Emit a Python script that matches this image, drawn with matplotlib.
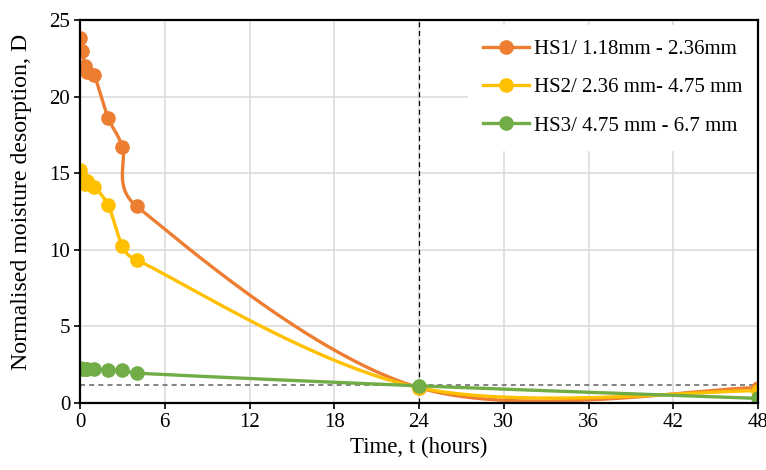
import numpy as np
import matplotlib
matplotlib.use("Agg")
import matplotlib.pyplot as plt

plt.rcParams["font.family"] = ["Liberation Serif", "DejaVu Serif"]

# sampling times (hours) and normalised moisture desorption D
hours = [0, 0.17, 0.33, 0.5, 1, 2, 3, 4, 24, 48]
hs1 = [23.8, 23.0, 22.0, 21.6, 21.4, 18.6, 16.7, 12.85, 1.0, 1.0]
hs2 = [15.2, 14.7, 14.3, 14.5, 14.1, 12.9, 10.25, 9.35, 1.0, 0.8]
hs3 = [2.3, 2.25, 2.2, 2.2, 2.2, 2.15, 2.15, 1.95, 1.12, 0.3]
labels = ["HS1/ 1.18mm - 2.36mm", "HS2/ 2.36 mm- 4.75 mm", "HS3/ 4.75 mm - 6.7 mm"]
colors = ["#ed7d31", "#ffc000", "#70ad47"]
ref_level = 1.15
ref_time = 24

AX_W, AX_H = 678, 383  # axes size in pixels


def smooth(x, y, n=40):
    # bezier spline through the points; control arms 1/6 of the neighbour chord,
    # capped at half the segment length
    p = np.column_stack([x, y]).astype(float)
    out = [p[:1]]
    for i in range(len(p) - 1):
        p0 = p[i - 1] if i > 0 else p[i]
        p1, p2 = p[i], p[i + 1]
        p3 = p[i + 2] if i + 2 < len(p) else p[i + 1]
        d12 = np.hypot(*(p2 - p1))
        a, b = p2 - p0, p3 - p1
        la, lb = np.hypot(*a), np.hypot(*b)
        c1 = p1 + (a / la * min(la / 6, d12 / 2) if la > 0 else 0)
        c2 = p2 - (b / lb * min(lb / 6, d12 / 2) if lb > 0 else 0)
        t = np.linspace(0, 1, n)[1:, None]
        seg = (1 - t) ** 3 * p1 + 3 * (1 - t) ** 2 * t * c1 + 3 * (1 - t) * t ** 2 * c2 + t ** 3 * p2
        out.append(seg)
    pts = np.vstack(out)
    return pts[:, 0], pts[:, 1]


fig = plt.figure(figsize=(7.66, 4.70), dpi=100)
ax = fig.add_axes([80 / 766, 67 / 470, AX_W / 766, AX_H / 470])

for ys, lab, c in zip([hs1, hs2, hs3], labels, colors):
    # smooth in pixel units so the curve shape does not depend on the axis ranges
    sx, sy = smooth(np.array(hours) * AX_W / 48, np.array(ys) * AX_H / 25)
    ax.plot(sx * 48 / AX_W, sy * 25 / AX_H, color=c, lw=2.4, zorder=3)
    ax.plot(hours, ys, "o", color=c, ms=9.5, zorder=4)
    ax.plot([], [], "-o", color=c, lw=2.4, ms=9.5, label=lab)

ax.axvline(ref_time, color="black", ls=(0, (4, 3)), lw=0.9, zorder=2)
ax.plot([0, 48], [ref_level, ref_level], color="#6e6e6e", ls=(0, (3, 2.5)), lw=1.2, zorder=2)

ax.set_xlim(0, 48)
ax.set_ylim(0, 25)
ax.set_xticks(np.arange(0, 49, 6))
ax.set_yticks(np.arange(0, 26, 5))
ax.grid(color="#d9d9d9", lw=1.1)
ax.set_axisbelow(True)
for s in ax.spines.values():
    s.set_linewidth(1.6)
    s.set_color("black")
    s.set_zorder(6)
ax.tick_params(labelsize=15, length=4, width=1.2, direction="out", pad=3)
ax.set_xlabel("Time, t (hours)", fontsize=16.5, labelpad=4)
ax.set_ylabel("Normalised moisture desorption, D", fontsize=17.2)
ax.yaxis.set_label_coords(-0.071, 0.524)

leg = ax.legend(loc="upper right", bbox_to_anchor=(1.0, 0.99), fontsize=15,
                frameon=True, fancybox=False, handlelength=2.2, handletextpad=0.25,
                labelspacing=0.9, borderaxespad=0.05, borderpad=0.7)
leg.get_frame().set_edgecolor("white")
leg.get_frame().set_alpha(1)

fig.savefig("out.png", dpi=100)
